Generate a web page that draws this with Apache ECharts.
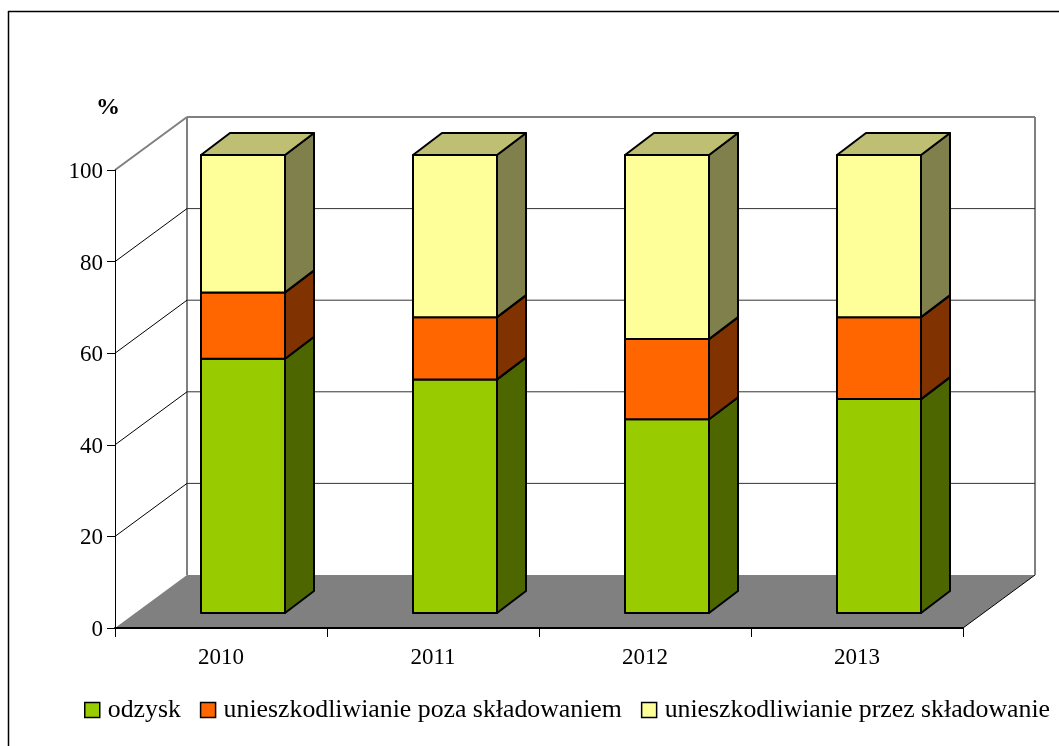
<!DOCTYPE html>
<html>
<head>
<meta charset="utf-8">
<title>Odpady</title>
<style>html,body{margin:0;padding:0;background:#fff}#chart{width:1059px;height:746px}</style>
<script src="https://cdn.jsdelivr.net/npm/echarts@6/dist/echarts.min.js"></script>
</head>
<body>
<div id="chart"></div>
<script>
// Shares of waste treatment methods by year, in percent
const years = ['2010', '2011', '2012', '2013'];
const odzysk = [55.5, 51, 42.3, 46.7];
const poza = [14.5, 13.6, 17.5, 17.9];
const skladowanie = [30, 35.4, 40.2, 35.4];
const yTicks = [0, 20, 40, 60, 80, 100];

const FONT = '"Liberation Serif","Times New Roman",serif';

// Oblique projection of the chart box: how far one depth unit shifts a point on screen
const WALL_DX = 72, WALL_DY = -53;
const BAR_SHIFT_DX = 21, BAR_SHIFT_DY = -15;
const BAR_DX = 29, BAR_DY = -22;
const BAR_WIDTH = 84;
const BAR_CENTER_OFFSET = 1;

const stack = (rows, idx) => years.map((_, i) => {
  let base = 0;
  for (let k = 0; k < idx; k++) base += rows[k][i];
  return [i, base, base + rows[idx][i]];
});

function poly(points, fill, stroke, width) {
  return {
    type: 'polygon',
    shape: { points },
    style: { fill, stroke: stroke || 'none', lineWidth: width || 0, lineJoin: 'round' },
    silent: true
  };
}
function line(x1, y1, x2, y2, stroke, width) {
  return {
    type: 'line',
    shape: { x1, y1, x2, y2 },
    style: { stroke, lineWidth: width },
    silent: true
  };
}

// Back wall, side wall, floor and grid lines of the box
function renderBox(params, api) {
  const v = api.value(0);
  const cs = params.coordSys;
  const left = cs.x, right = cs.x + cs.width;
  const y = api.coord([0, v])[1];
  const children = [];
  if (v === 0) {
    children.push(poly([
      [left, y], [left + WALL_DX, y + WALL_DY],
      [right + WALL_DX, y + WALL_DY], [right, y]
    ], '#808080'));
    children.push(line(right, y, right + WALL_DX, y + WALL_DY, '#000', 1));
    const topY = cs.y;
    children.push(line(left + WALL_DX, topY + WALL_DY, left + WALL_DX, y + WALL_DY, '#808080', 2));
    children.push(line(right + WALL_DX, topY + WALL_DY, right + WALL_DX, y + WALL_DY, '#808080', 2));
  } else if (v === 100) {
    children.push(line(left, y, left + WALL_DX, y + WALL_DY, '#808080', 2));
    children.push(line(left + WALL_DX, y + WALL_DY, right + WALL_DX, y + WALL_DY, '#808080', 2));
  } else {
    children.push(line(left, y, left + WALL_DX, y + WALL_DY, '#000', 1));
    children.push(line(left + WALL_DX, y + WALL_DY, right + WALL_DX, y + WALL_DY, '#333', 1));
  }
  return { type: 'group', children };
}

// One segment of a stacked column: front, right side and top faces
function renderSegment(front, side, top) {
  return function (params, api) {
    const a = api.coord([api.value(0), api.value(1)]);
    const b = api.coord([api.value(0), api.value(2)]);
    const cx = a[0] + BAR_SHIFT_DX + BAR_CENTER_OFFSET;
    const x0 = cx - BAR_WIDTH / 2, x1 = cx + BAR_WIDTH / 2;
    const y0 = a[1] + BAR_SHIFT_DY, y1 = b[1] + BAR_SHIFT_DY;
    const lw = 2;
    return {
      type: 'group',
      children: [
        poly([[x1, y0], [x1 + BAR_DX, y0 + BAR_DY], [x1 + BAR_DX, y1 + BAR_DY], [x1, y1]], side, '#000', lw),
        poly([[x0, y1], [x1, y1], [x1 + BAR_DX, y1 + BAR_DY], [x0 + BAR_DX, y1 + BAR_DY]], top, '#000', lw),
        poly([[x0, y0], [x1, y0], [x1, y1], [x0, y1]], front, '#000', lw)
      ]
    };
  };
}

const rows = [odzysk, poza, skladowanie];

const chart = echarts.init(document.getElementById('chart'), null, { renderer: 'canvas' });
chart.setOption({
  animation: false,
  backgroundColor: '#fff',
  textStyle: { fontFamily: FONT },
  grid: { left: 115, top: 170, right: 96, bottom: 118, containLabel: false },
  xAxis: {
    type: 'category',
    data: years,
    z: 5,
    axisLine: { lineStyle: { color: '#000', width: 2 } },
    axisTick: { show: true, alignWithLabel: false, length: 9, lineStyle: { color: '#000', width: 1 } },
    axisLabel: { color: '#000', fontFamily: FONT, fontSize: 23, margin: 18 }
  },
  yAxis: {
    type: 'value',
    min: 0,
    max: 100,
    interval: 20,
    z: 5,
    name: '%',
    nameLocation: 'end',
    nameGap: 50,
    nameTextStyle: { color: '#000', fontFamily: FONT, fontSize: 24, fontWeight: 'bold', padding: [0, 14, 0, 0] },
    axisLine: { show: true, lineStyle: { color: '#000', width: 1 } },
    axisTick: { show: true, length: 8, lineStyle: { color: '#000', width: 1 } },
    axisLabel: {
      color: '#000', fontFamily: FONT, fontSize: 23, margin: 12,
      formatter: '{n|{value}}',
      rich: { n: { color: '#000', fontFamily: FONT, fontSize: 23, padding: [4, 0, 0, 0] } }
    },
    splitLine: { show: false }
  },
  legend: {
    left: 84,
    top: 697,
    itemWidth: 15,
    itemHeight: 15,
    itemGap: 19,
    icon: 'rect',
    padding: 0,
    selectedMode: false,
    itemStyle: { borderColor: '#000', borderWidth: 1.5 },
    textStyle: { color: '#000', fontFamily: FONT, fontSize: 25.8, padding: [0, 0, 0, 3] },
    data: ['odzysk', 'unieszkodliwianie poza składowaniem', 'unieszkodliwianie przez składowanie']
  },
  series: [
    {
      type: 'custom',
      name: 'box',
      z: 1,
      silent: true,
      clip: false,
      renderItem: renderBox,
      data: yTicks.map(v => [v]),
      encode: { y: 0 }
    },
    {
      type: 'custom', name: 'odzysk', z: 3, clip: false,
      itemStyle: { color: '#99CC00' },
      renderItem: renderSegment('#99CC00', '#4D6600', '#BFBF73'),
      data: stack(rows, 0), encode: { x: 0, y: [1, 2] }
    },
    {
      type: 'custom', name: 'unieszkodliwianie poza składowaniem', z: 3, clip: false,
      itemStyle: { color: '#FF6600' },
      renderItem: renderSegment('#FF6600', '#803300', '#BFBF73'),
      data: stack(rows, 1), encode: { x: 0, y: [1, 2] }
    },
    {
      type: 'custom', name: 'unieszkodliwianie przez składowanie', z: 3, clip: false,
      itemStyle: { color: '#FFFF99' },
      renderItem: renderSegment('#FFFF99', '#80804D', '#BFBF73'),
      data: stack(rows, 2), encode: { x: 0, y: [1, 2] }
    }
  ],
  graphic: [
    // Chart area frame: only its top and left edges are drawn
    { type: 'line', silent: true, z: 10, shape: { x1: 8, y1: 11.5, x2: 1059, y2: 11.5 }, style: { stroke: '#000', lineWidth: 1.5 } },
    { type: 'line', silent: true, z: 10, shape: { x1: 8.5, y1: 11, x2: 8.5, y2: 746 }, style: { stroke: '#000', lineWidth: 1.5 } }
  ]
});
</script>
</body>
</html>
